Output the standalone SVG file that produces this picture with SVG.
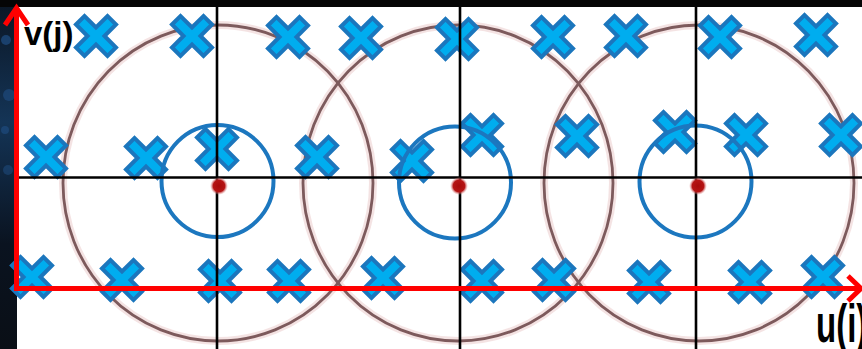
<svg xmlns="http://www.w3.org/2000/svg" width="862" height="349" viewBox="0 0 862 349">
<style>
.big{fill:none;stroke:#7d5a5c;stroke-width:2.8}
.halo{fill:none;stroke:#ecd0d0;stroke-width:8;opacity:.6}
.blue{fill:none;stroke:#1c77bf;stroke-width:4}
.grid{stroke:#000;stroke-width:2.6}
.axis{stroke:#ff0000;stroke-width:5;fill:none}
.x{fill:#00adef;stroke:#1b76bd;stroke-width:4;stroke-linejoin:miter}
.lbl{font-family:"Liberation Sans",Arial,sans-serif;font-weight:bold;font-size:33px;fill:#000}
</style>
<defs>
<path id="cross" d="M-20,-11.5 L-11.5,-20 L0,-8.5 L11.5,-20 L20,-11.5 L8.5,0 L20,11.5 L11.5,20 L0,8.5 L-11.5,20 L-20,11.5 L-8.5,0 Z"/>
<radialGradient id="dot">
<stop offset="0" stop-color="#a80a0a"/>
<stop offset="0.65" stop-color="#b51414"/>
<stop offset="1" stop-color="#e8a0a0" stop-opacity="0"/>
</radialGradient>
<linearGradient id="strip" x1="0" y1="0" x2="0" y2="1">
<stop offset="0" stop-color="#0b1624"/>
<stop offset="0.35" stop-color="#143456"/>
<stop offset="0.7" stop-color="#0a1320"/>
<stop offset="1" stop-color="#0a0f16"/>
</linearGradient>
</defs>
<g id="background">
<rect x="0" y="0" width="862" height="349" fill="#ffffff"/>
<rect x="0" y="0" width="17" height="349" fill="url(#strip)"/>
<rect x="0" y="0" width="862" height="7" fill="#050505"/>
<circle cx="6" cy="40" r="5" fill="#1f4f85" opacity="0.7"/>
<circle cx="9" cy="95" r="6" fill="#1f4f85" opacity="0.6"/>
<circle cx="5" cy="130" r="4" fill="#1f4f85" opacity="0.6"/>
<circle cx="8" cy="170" r="5" fill="#1f4f85" opacity="0.5"/>
</g>
<g id="large-circles">
<ellipse class="halo" cx="218" cy="183" rx="155" ry="158"/>
<ellipse class="halo" cx="458" cy="183" rx="155" ry="158"/>
<ellipse class="halo" cx="699" cy="183" rx="155" ry="158"/>
<ellipse class="big" cx="218" cy="183" rx="155" ry="158"/>
<ellipse class="big" cx="458" cy="183" rx="155" ry="158"/>
<ellipse class="big" cx="699" cy="183" rx="155" ry="158"/>
</g>
<g id="samples">
<use href="#cross" class="x" x="96" y="36"/>
<use href="#cross" class="x" x="192" y="36"/>
<use href="#cross" class="x" x="288" y="37"/>
<use href="#cross" class="x" x="361" y="38"/>
<use href="#cross" class="x" x="457" y="39"/>
<use href="#cross" class="x" x="553" y="37"/>
<use href="#cross" class="x" x="626" y="36"/>
<use href="#cross" class="x" x="720" y="37"/>
<use href="#cross" class="x" x="816" y="35"/>
<use href="#cross" class="x" x="46" y="157"/>
<use href="#cross" class="x" x="146" y="158"/>
<use href="#cross" class="x" x="217" y="149"/>
<use href="#cross" class="x" x="317" y="157"/>
<use href="#cross" class="x" x="412" y="161"/>
<use href="#cross" class="x" x="482" y="135"/>
<use href="#cross" class="x" x="577" y="136"/>
<use href="#cross" class="x" x="675" y="132"/>
<use href="#cross" class="x" x="746" y="135"/>
<use href="#cross" class="x" x="841" y="135"/>
<use href="#cross" class="x" x="32" y="277"/>
<use href="#cross" class="x" x="122" y="280"/>
<use href="#cross" class="x" x="220" y="281"/>
<use href="#cross" class="x" x="289" y="281"/>
<use href="#cross" class="x" x="383" y="278"/>
<use href="#cross" class="x" x="482" y="281"/>
<use href="#cross" class="x" x="554" y="280"/>
<use href="#cross" class="x" x="649" y="282"/>
<use href="#cross" class="x" x="750" y="282"/>
<use href="#cross" class="x" x="823" y="277"/>
</g>
<g id="small-circles">
<circle class="blue" cx="217.5" cy="181" r="56"/>
<circle class="blue" cx="455" cy="182.5" r="56"/>
<circle class="blue" cx="695.5" cy="181.5" r="56"/>
</g>
<g id="grid">
<line class="grid" x1="217" y1="7" x2="217" y2="349"/>
<line class="grid" x1="460" y1="7" x2="460" y2="349"/>
<line class="grid" x1="696" y1="7" x2="696" y2="349"/>
<line class="grid" x1="17" y1="177.5" x2="862" y2="177.5"/>
</g>
<g id="centers">
<circle cx="219" cy="186" r="9" fill="url(#dot)"/>
<circle cx="459" cy="186" r="9" fill="url(#dot)"/>
<circle cx="698" cy="186" r="9" fill="url(#dot)"/>
</g>
<g id="axes">
<line class="axis" x1="16.5" y1="291" x2="16.5" y2="8"/>
<polyline class="axis" points="5,25 16.5,8 28,25"/>
<line class="axis" x1="14" y1="288.5" x2="860" y2="288.5"/>
<polyline class="axis" points="848,276 861,288.5 848,301"/>
</g>
<g id="labels">
<text class="lbl" x="24" y="45">v(j)</text>
<text class="lbl" transform="translate(816,342) scale(1,1.65)">u(i)</text>
</g>
</svg>
